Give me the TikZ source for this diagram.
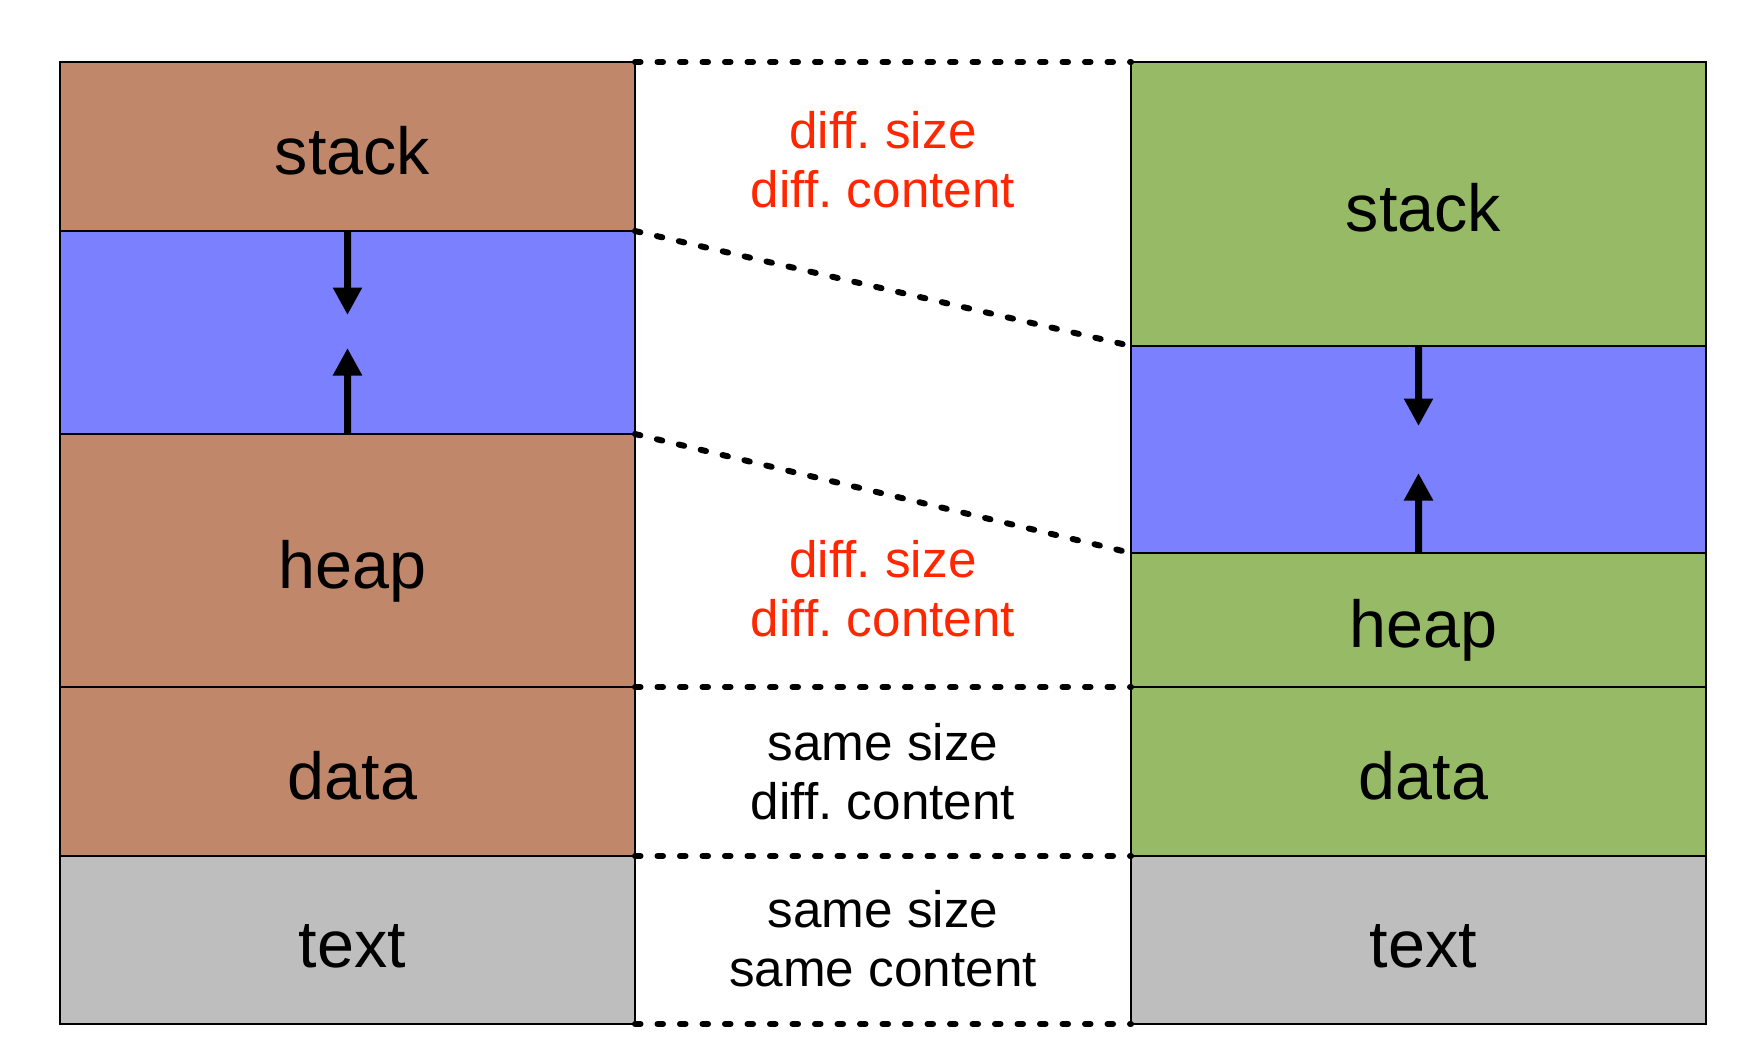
\documentclass[tikz,border=0pt]{standalone}
\usepackage{fontspec}
\setmainfont{Liberation Sans}
\usetikzlibrary{arrows.meta}
\definecolor{brownseg}{RGB}{192,135,107}
\definecolor{blueseg}{RGB}{123,128,255}
\definecolor{greenseg}{RGB}{151,186,103}
\definecolor{grayseg}{RGB}{190,190,190}
\definecolor{redtxt}{RGB}{255,38,0}
\frenchspacing
\begin{document}
\begin{tikzpicture}[x=0.4pt,y=-0.4pt,
  seg/.style={draw=black,line width=0.6pt,rectangle,inner sep=0pt,outer sep=0pt,
    minimum width=230pt,anchor=north west,text height=22pt,text depth=0pt,
    font=\fontsize{26.6}{30}\selectfont},
  lbl/.style={font=\fontsize{26.6}{30}\selectfont,inner sep=0pt,text height=22pt,text depth=0pt},
  dots/.style={line width=2.4pt,line cap=round,dash pattern=on 2.2pt off 6.8pt},
  growarrow/.style={line width=2.8pt,-{Triangle[width=11pt,length=11pt]}},
  note/.style={align=center,font=\fontsize{20.5}{23.6}\selectfont}]
\useasboundingbox (0,0) rectangle (1744,1060);
% left column
\node[seg,fill=brownseg,minimum height=67.6pt] (Lstack) at (60,62) {};
\node[seg,fill=blueseg,minimum height=81.2pt] (Lgap) at (60,231) {};
\node[seg,fill=brownseg,minimum height=101.2pt] (Lheap) at (60,434) {};
\node[seg,fill=brownseg,minimum height=67.6pt] (Ldata) at (60,687) {};
\node[seg,fill=grayseg,minimum height=67.2pt] (Ltext) at (60,856) {};
% right column
\node[seg,fill=greenseg,minimum height=113.6pt] (Rstack) at (1131,62) {};
\node[seg,fill=blueseg,minimum height=82.8pt] (Rgap) at (1131,346) {};
\node[seg,fill=greenseg,minimum height=53.6pt] (Rheap) at (1131,553) {};
\node[seg,fill=greenseg,minimum height=67.6pt] (Rdata) at (1131,687) {};
\node[seg,fill=grayseg,minimum height=67.2pt] (Rtext) at (1131,856) {};
% labels
\node[lbl,xshift=2pt] (tLstack) at (Lstack.center) {stack};
\node[lbl,xshift=2pt] (tLheap) at (Lheap.center) {heap};
\node[lbl,xshift=2pt] (tLdata) at (Ldata.center) {data};
\node[lbl,xshift=2pt] (tLtext) at (Ltext.center) {text};
\node[lbl,xshift=2pt] (tRstack) at (Rstack.center) {stack};
\node[lbl,xshift=2pt] (tRheap) at (Rheap.center) {heap};
\node[lbl,xshift=2pt] (tRdata) at (Rdata.center) {data};
\node[lbl,xshift=2pt] (tRtext) at (Rtext.center) {text};
% growth arrows
\coordinate (Ltipd) at (347.5,315);
\coordinate (Ltipu) at (347.5,348);
\coordinate (Rtipd) at (1418.5,426);
\coordinate (Rtipu) at (1418.5,473);
\draw[growarrow] (Lgap.north) -- (Ltipd);
\draw[growarrow] (Lgap.south) -- (Ltipu);
\draw[growarrow] (Rgap.north) -- (Rtipd);
\draw[growarrow] (Rgap.south) -- (Rtipu);
% dotted correspondences
\draw[dots] (Lstack.north east) -- (Rstack.north west);
\draw[dots] (Lgap.north east) -- (Rgap.north west);
\draw[dots] (Lgap.south east) -- (Rgap.south west);
\draw[dots] (Ldata.north east) -- (Rdata.north west);
\draw[dots] (Ltext.north east) -- (Rtext.north west);
\draw[dots] (Ltext.south east) -- (Rtext.south west);
% notes
\node[note,text=redtxt] (n1) at (883,160) {diff. size\\diff. content};
\node[note,text=redtxt] (n2) at (883,589) {diff. size\\diff. content};
\node[note] (n3) at (883,772) {same size\\diff. content};
\node[note] (n4) at (883,939) {same size\\same content};
\end{tikzpicture}
\end{document}
